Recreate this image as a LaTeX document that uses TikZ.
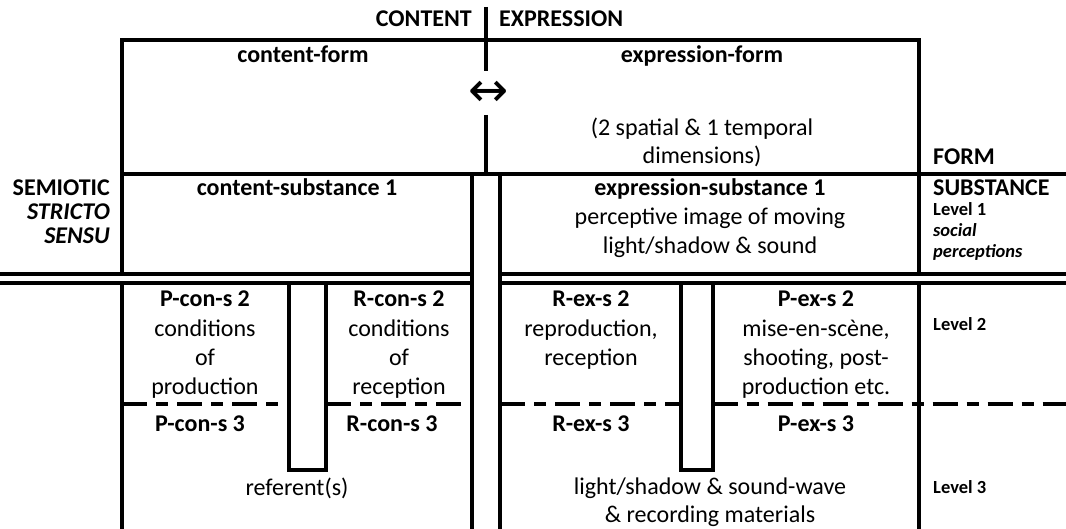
\documentclass[tikz,border=0pt]{standalone}
\usepackage{fontspec}
\setmainfont{Carlito}
\newfontfamily\arrowfont{DejaVu Sans}
\begin{document}
\begin{tikzpicture}[x=1pt,y=-1pt,
  ln/.style={line width=4pt},
  dl/.style={line width=4pt, dash pattern=on 25pt off 9pt on 12pt off 9pt},
  bt/.style={font=\fontsize{24}{29}\selectfont\bfseries, inner sep=0pt, anchor=base},
  bi/.style={font=\fontsize{24}{29}\selectfont\bfseries\itshape, inner sep=0pt, anchor=base},
  tx/.style={font=\fontsize{24}{29}\selectfont, inner sep=0pt, anchor=base},
  sm/.style={font=\fontsize{18.5}{23}\selectfont\bfseries, inner sep=0pt, anchor=base west},
  si/.style={font=\fontsize{18.5}{23}\selectfont\bfseries\itshape, inner sep=0pt, anchor=base west},
  ar/.style={font=\fontsize{48}{48}\selectfont\arrowfont, inner sep=0pt}]
\useasboundingbox (0,0) rectangle (1066,529);
% frame lines
\draw[ln] (122,274) -- (122,40.5) -- (919,40.5) -- (919,274);
\draw[ln] (122,283) -- (122,531);
\draw[ln] (919,283) -- (919,531);
\draw[ln] (122,174) -- (1068,174);
\draw[ln] (485.5,7) -- (485.5,71);
\draw[ln] (485.5,115) -- (485.5,174);
\draw[ln] (472,174) -- (472,531);
\draw[ln] (500,174) -- (500,531);
\draw[ln] (-2,274) -- (472,274);
\draw[ln] (500,274) -- (1068,274);
\draw[ln] (-2,283) -- (472,283);
\draw[ln] (500,283) -- (1068,283);
\draw[ln] (289,283) -- (289,470) -- (326,470) -- (326,283);
\draw[ln] (681,283) -- (681,470) -- (712.5,470) -- (712.5,283);
\draw[dl] (122,404) -- (289,404);
\draw[dl] (326,404) -- (472,404);
\draw[dl] (500,404) -- (681,404);
\draw[dl] (712.5,404) -- (1068,404);
% header texts
\node[bt, anchor=base east] (content) at (472,27) {CONTENT};
\node[bt, anchor=base west] (expression) at (499,27) {EXPRESSION};
\node[bt] (cform) at (303,63) {content-form};
\node[bt] (eform) at (702,63) {expression-form};
\node[ar] (arrowsym) at (489,94) {↔};
\node[tx] (edim1) at (702,136) {(2 spatial \& 1 temporal};
\node[tx] (edim2) at (702,164) {dimensions)};
\node[bt, anchor=base west] (form) at (933,165) {FORM};
% substance level 1
\node[bt, anchor=base east] (semiotic) at (110,196) {SEMIOTIC};
\node[bi, anchor=base east] (stricto) at (110,220) {STRICTO};
\node[bi, anchor=base east] (sensu) at (110,244) {SENSU};
\node[bt] (csub) at (297,196) {content-substance 1};
\node[bt] (esub) at (710,196) {expression-substance 1};
\node[tx] (eperc1) at (710,225) {perceptive image of moving};
\node[tx] (eperc2) at (710,254) {light/shadow \& sound};
\node[bt, anchor=base west] (substance) at (933,196) {SUBSTANCE};
\node[sm] (level1) at (933,215.5) {Level 1};
\node[si] (social) at (933,236.5) {social};
\node[si] (perceptions) at (933,257.5) {perceptions};
% level 2
\node[bt] (pcon2) at (205,307) {P-con-s 2};
\node[tx] (pcon2a) at (205,337) {conditions};
\node[tx] (pcon2b) at (205,366) {of};
\node[tx] (pcon2c) at (205,395) {production};
\node[bt] (rcon2) at (399,307) {R-con-s 2};
\node[tx] (rcon2a) at (399,337) {conditions};
\node[tx] (rcon2b) at (399,366) {of};
\node[tx] (rcon2c) at (399,395) {reception};
\node[bt] (rex2) at (591,307) {R-ex-s 2};
\node[tx] (rex2a) at (591,337) {reproduction,};
\node[tx] (rex2b) at (591,366) {reception};
\node[bt] (pex2) at (816,307) {P-ex-s 2};
\node[tx] (pex2a) at (816,337) {mise-en-scène,};
\node[tx] (pex2b) at (816,366) {shooting, post-};
\node[tx] (pex2c) at (816,395) {production etc.};
\node[sm] (level2) at (933,330.5) {Level 2};
% level 3
\node[bt] (pcon3) at (200,431) {P-con-s 3};
\node[bt] (rcon3) at (392,431) {R-con-s 3};
\node[bt] (rex3) at (591,431) {R-ex-s 3};
\node[bt] (pex3) at (816,431) {P-ex-s 3};
\node[tx] (referents) at (297,495) {referent(s)};
\node[tx] (lightwave1) at (710,494) {light/shadow \& sound-wave};
\node[tx] (lightwave2) at (710,522) {\& recording materials};
\node[sm] (level3) at (933,493.5) {Level 3};
\end{tikzpicture}
\end{document}
